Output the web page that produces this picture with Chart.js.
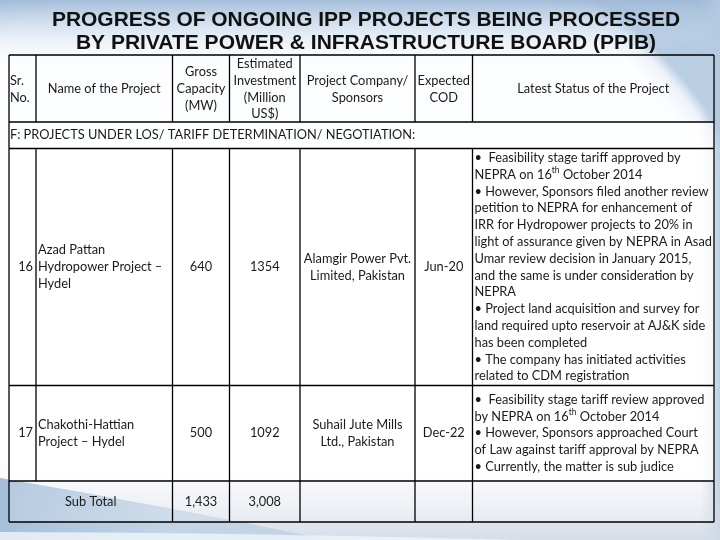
<!DOCTYPE html>
<html><head><meta charset="utf-8">
<script src="https://cdn.jsdelivr.net/npm/chart.js@4"></script>
<style>html,body{margin:0;padding:0;background:#dfe7f0;}canvas{display:block}</style>
</head><body><canvas id="c" width="720" height="540"></canvas>
<script>
// ---------- DATA ----------
const titleLines = ["PROGRESS OF ONGOING IPP PROJECTS BEING PROCESSED", "BY PRIVATE POWER & INFRASTRUCTURE BOARD (PPIB)"];
const headerLabels = [["Sr.","No."],["Name of the Project"],["Gross","Capacity","(MW)"],["Estimated","Investment","(Million","US$)"],["Project Company/","Sponsors"],["Expected","COD"],["Latest Status of the Project"]];
const sectionTitle = "F: PROJECTS UNDER LOS/ TARIFF DETERMINATION/ NEGOTIATION:";
const srNo = ["16", "17"];
const projectNames = [["Azad Pattan","Hydropower Project –","Hydel"],["Chakothi-Hattian","Project – Hydel"]];
const capacityMW = [640, 500];
const investmentMUSD = [1354, 1092];
const sponsors = [["Alamgir Power Pvt.","Limited, Pakistan"],["Suhail Jute Mills","Ltd., Pakistan"]];
const expectedCOD = ["Jun-20", "Dec-22"];
const statusLines = [
  ["•  Feasibility stage tariff approved by",
   "NEPRA on 16{th} October 2014",
   "• However, Sponsors filed another review",
   "petition to NEPRA for enhancement of",
   "IRR for Hydropower projects to 20% in",
   "light of assurance given by NEPRA in Asad",
   "Umar review decision in January 2015,",
   "and the same is under consideration by",
   "NEPRA",
   "• Project land acquisition and survey for",
   "land required upto reservoir at AJ&K side",
   "has been completed",
   "• The company has initiated activities",
   "related to CDM registration"],
  ["•  Feasibility stage tariff review approved",
   "by NEPRA on 16{th} October 2014",
   "• However, Sponsors approached Court",
   "of Law against tariff approval by NEPRA",
   "• Currently, the matter is sub judice"]
];
const subTotalLabel = "Sub Total";
const subTotalCapacity = "1,433";
const subTotalInvestment = "3,008";

// ---------- LAYOUT (data-space units of the hidden 720x540 scales) ----------
const colEdges = [9, 36, 172.5, 229.5, 300, 415, 472.5, 714];
const rowEdges = [55, 122, 148.5, 385.5, 481, 522];
const lineH = 16.8;
const bodyFont = '12.8px Lato, "Open Sans", sans-serif';
const supFont = '8.5px Lato, "Open Sans", sans-serif';

function drawRich(ctx, text, x, y, align, maxW) {
  const parts = text.split(/(\{[^}]+\})/).filter(p => p.length);
  let total = 0;
  const segs = parts.map(p => {
    const sup = p.startsWith('{');
    const t = sup ? p.slice(1, -1) : p;
    ctx.font = sup ? supFont : bodyFont;
    const w = ctx.measureText(t).width;
    total += w;
    return {t, sup, w};
  });
  const k = (maxW && total > maxW) ? maxW / total : 1;
  let cx = align === 'center' ? x - total * k / 2 : (align === 'right' ? x - total * k : x);
  ctx.textAlign = 'left';
  segs.forEach(s => {
    ctx.font = s.sup ? supFont : bodyFont;
    ctx.fillText(s.t, cx, s.sup ? y - 4 : y, s.w * k);
    cx += s.w * k;
  });
}

const tablePlugin = {
  id: 'table',
  beforeDraw(chart) {
    const {ctx, width, height} = chart;
    ctx.save();
    // base blue
    const g = ctx.createLinearGradient(0, 0, width, 120);
    g.addColorStop(0, '#b9cde3'); g.addColorStop(1, '#aec6df');
    ctx.fillStyle = g; ctx.fillRect(0, 0, width, height);
    // big white circle
    const r = ctx.createRadialGradient(300, 400, 470, 300, 400, 500);
    r.addColorStop(0, 'rgba(252,253,255,1)'); r.addColorStop(0.6, 'rgba(240,245,251,0.95)'); r.addColorStop(1, 'rgba(255,255,255,0)');
    ctx.fillStyle = r; ctx.fillRect(0, 0, width, height);
    // top blue band
    const tb = ctx.createLinearGradient(0, 0, 0, 40);
    tb.addColorStop(0, 'rgba(160,185,215,0.95)'); tb.addColorStop(1, 'rgba(200,218,236,0.35)');
    ctx.fillStyle = tb; ctx.fillRect(0, 0, width, 40);
    const tb2 = ctx.createLinearGradient(0, 40, 0, 60);
    tb2.addColorStop(0, 'rgba(200,218,236,0.35)'); tb2.addColorStop(1, 'rgba(220,232,244,0)');
    ctx.fillStyle = tb2; ctx.fillRect(0, 40, width, 20);
    // right edge strip
    const rs = ctx.createLinearGradient(700, 0, 720, 0);
    rs.addColorStop(0, 'rgba(180,202,226,0)'); rs.addColorStop(1, 'rgba(180,202,226,0.9)');
    ctx.fillStyle = rs; ctx.fillRect(700, 0, 20, height);
    // lower grey haze
    const lg = ctx.createLinearGradient(0, 470, 0, 540);
    lg.addColorStop(0, 'rgba(215,222,232,0)'); lg.addColorStop(1, 'rgba(210,218,230,0.9)');
    ctx.fillStyle = lg; ctx.fillRect(0, 470, width, 70);
    // bottom-left swoosh
    ctx.beginPath(); ctx.moveTo(0, 478); ctx.quadraticCurveTo(160, 505, 330, 540); ctx.lineTo(0, 540); ctx.closePath();
    const sg = ctx.createLinearGradient(0, 478, 160, 540);
    sg.addColorStop(0, '#a3bdd8'); sg.addColorStop(1, '#c2d4e6');
    ctx.fillStyle = sg; ctx.fill();
    ctx.beginPath(); ctx.moveTo(0, 532); ctx.quadraticCurveTo(200, 532, 520, 540); ctx.lineTo(0, 540); ctx.closePath();
    ctx.fillStyle = 'rgba(240,245,250,0.8)'; ctx.fill();
    ctx.restore();
  },
  afterDraw(chart) {
    const {ctx} = chart;
    const X = v => chart.scales.x.getPixelForValue(v);
    const Y = v => chart.scales.y.getPixelForValue(v);
    ctx.save();
    // cell fills
    const fills = ['rgba(255,255,255,0.15)', 'rgba(255,255,255,0.75)', 'rgba(255,255,255,0.8)', 'rgba(255,255,255,0.8)', 'rgba(255,255,255,0.2)'];
    for (let i = 0; i < 5; i++) {
      ctx.fillStyle = fills[i];
      ctx.fillRect(X(colEdges[0]), Y(rowEdges[i]), X(colEdges[7]) - X(colEdges[0]), Y(rowEdges[i+1]) - Y(rowEdges[i]));
    }
    // title
    ctx.fillStyle = '#111';
    ctx.textBaseline = 'middle'; ctx.textAlign = 'center';
    ctx.font = 'bold 21px "Liberation Sans", Arial, sans-serif';
    ctx.fillText(titleLines[0], X(366), Y(20.5), 628);
    ctx.fillText(titleLines[1], X(366), Y(43.5), 584);
    // grid
    ctx.strokeStyle = '#000'; ctx.lineWidth = 1.3;
    ctx.beginPath();
    rowEdges.forEach(y => { ctx.moveTo(X(colEdges[0]), Y(y)); ctx.lineTo(X(colEdges[7]), Y(y)); });
    colEdges.forEach((x, i) => {
      if (i === 0 || i === 7) { ctx.moveTo(X(x), Y(rowEdges[0])); ctx.lineTo(X(x), Y(rowEdges[5])); return; }
      ctx.moveTo(X(x), Y(rowEdges[0])); ctx.lineTo(X(x), Y(rowEdges[1]));
      const bottom = (i === 1) ? rowEdges[4] : rowEdges[5];
      ctx.moveTo(X(x), Y(rowEdges[2])); ctx.lineTo(X(x), Y(bottom));
    });
    ctx.stroke();
    // text
    ctx.fillStyle = '#1a1a1a';
    const mid = i => (colEdges[i] + colEdges[i+1]) / 2;
    const block = (lines, x, yc, align, maxW) => {
      const y0 = yc - (lines.length - 1) * lineH / 2;
      lines.forEach((l, k) => drawRich(ctx, l, X(x), Y(y0 + k * lineH), align, maxW));
    };
    const hc = (rowEdges[0] + rowEdges[1]) / 2 + 0.5;
    headerLabels.forEach((lines, i) => {
      const w = colEdges[i+1] - colEdges[i] - 3;
      if (i === 0) block(lines, colEdges[0] + 1, hc, 'left', w);
      else block(lines, mid(i), hc, 'center', w);
    });
    drawRich(ctx, sectionTitle, X(colEdges[0] + 1), Y((rowEdges[1] + rowEdges[2]) / 2), 'left');
    for (let r = 0; r < srNo.length; r++) {
      const yc = (rowEdges[2 + r] + rowEdges[3 + r]) / 2;
      drawRich(ctx, srNo[r], X(colEdges[1] - 3), Y(yc), 'right');
      block(projectNames[r], colEdges[1] + 2, yc, 'left', colEdges[2] - colEdges[1] - 4);
      drawRich(ctx, String(capacityMW[r]), X(mid(2)), Y(yc), 'center');
      drawRich(ctx, String(investmentMUSD[r]), X(mid(3)), Y(yc), 'center');
      block(sponsors[r], mid(4), yc, 'center');
      drawRich(ctx, expectedCOD[r], X(mid(5)), Y(yc), 'center');
      block(statusLines[r], colEdges[6] + 2, yc, 'left', colEdges[7] - colEdges[6] - 4);
    }
    const ys = (rowEdges[4] + rowEdges[5]) / 2;
    drawRich(ctx, subTotalLabel, X((colEdges[0] + colEdges[2]) / 2), Y(ys), 'center');
    drawRich(ctx, subTotalCapacity, X(mid(2)), Y(ys), 'center');
    drawRich(ctx, subTotalInvestment, X(mid(3)), Y(ys), 'center');
    ctx.restore();
  }
};

new Chart(document.getElementById('c').getContext('2d'), {
  type: 'scatter',
  data: { datasets: [{ data: [], pointRadius: 0 }] },
  options: {
    responsive: false, animation: false, devicePixelRatio: 1,
    layout: { padding: 0 },
    plugins: { legend: { display: false }, tooltip: { enabled: false } },
    scales: {
      x: { type: 'linear', min: 0, max: 720, display: false },
      y: { type: 'linear', min: 0, max: 540, reverse: true, display: false }
    }
  },
  plugins: [tablePlugin]
});
</script>
</body></html>
